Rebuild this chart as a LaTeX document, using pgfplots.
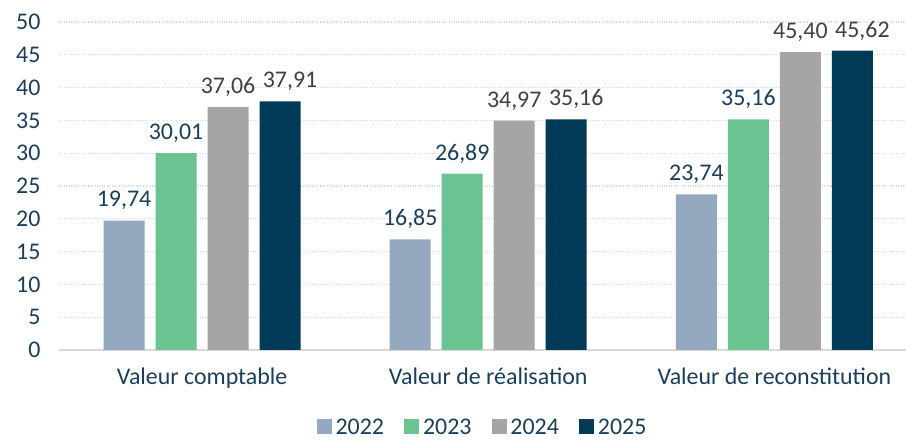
\documentclass[border=0pt]{standalone}
\usepackage{fontspec}
\setmainfont{Carlito}
\usepackage{pgfplots}
\pgfplotsset{compat=1.18}
\definecolor{c22}{HTML}{94A9BF}
\definecolor{c23}{HTML}{6AC391}
\definecolor{c24}{HTML}{A5A5A5}
\definecolor{c25}{HTML}{003A56}
\definecolor{txt}{HTML}{1B3D5C}
\definecolor{lbl}{HTML}{404040}
\definecolor{grd}{HTML}{D9D9D9}
\begin{document}
\begin{tikzpicture}
\useasboundingbox (0,0) rectangle (906bp,443bp);
\begin{axis}[
  at={(59bp,93bp)}, anchor=south west,
  scale only axis, width=847bp, height=328bp,
  ymin=0, ymax=50, ytick={0,5,...,50},
  xmin=-0.5, xmax=2.46,
  xtick={0,1,2},
  xticklabels={Valeur comptable, Valeur de réalisation, Valeur de reconstitution},
  ybar=11bp, bar width=41bp,
  axis lines*=left,
  x axis line style={grd, line width=1.6bp},
  y axis line style={draw=none},
  major tick length=0pt,
  ymajorgrids, grid style={grd, dotted, line width=1.2bp},
  /pgf/number format/assume math mode=true,
  tick label style={font=\fontsize{24}{28}\selectfont, text=txt},
  yticklabel style={xshift=-15bp},
  xticklabel style={yshift=-14bp},
  nodes near coords,
  nodes near coords style={font=\fontsize{24}{28}\selectfont, yshift=7bp,
    /pgf/number format/use comma, /pgf/number format/fixed,
    /pgf/number format/fixed zerofill, /pgf/number format/precision=2},
  legend columns=4,
  legend style={at={(0.5,-0.235)}, anchor=center, draw=none, inner sep=1bp, font=\fontsize{24}{28}\selectfont, text=txt,
    /tikz/every even column/.append style={column sep=18bp},
    /tikz/every odd column/.append style={column sep=2bp}},
  legend image code/.code={\fill[#1] (0bp,-7bp) rectangle (15bp,8bp);},
]
\addplot[fill=c22, draw=none, every node near coord/.append style={text=txt}] coordinates {(0,19.74) (1,16.85) (2,23.74)};
\addplot[fill=c23, draw=none, every node near coord/.append style={text=txt}] coordinates {(0,30.01) (1,26.89) (2,35.16)};
\addplot[fill=c24, draw=none, every node near coord/.append style={text=lbl}] coordinates {(0,37.06) (1,34.97) (2,45.40)};
\addplot[fill=c25, draw=none, every node near coord/.append style={text=lbl, xshift=10bp}] coordinates {(0,37.91) (1,35.16) (2,45.62)};
\legend{2022,2023,2024,2025}
\end{axis}
\end{tikzpicture}
\end{document}
